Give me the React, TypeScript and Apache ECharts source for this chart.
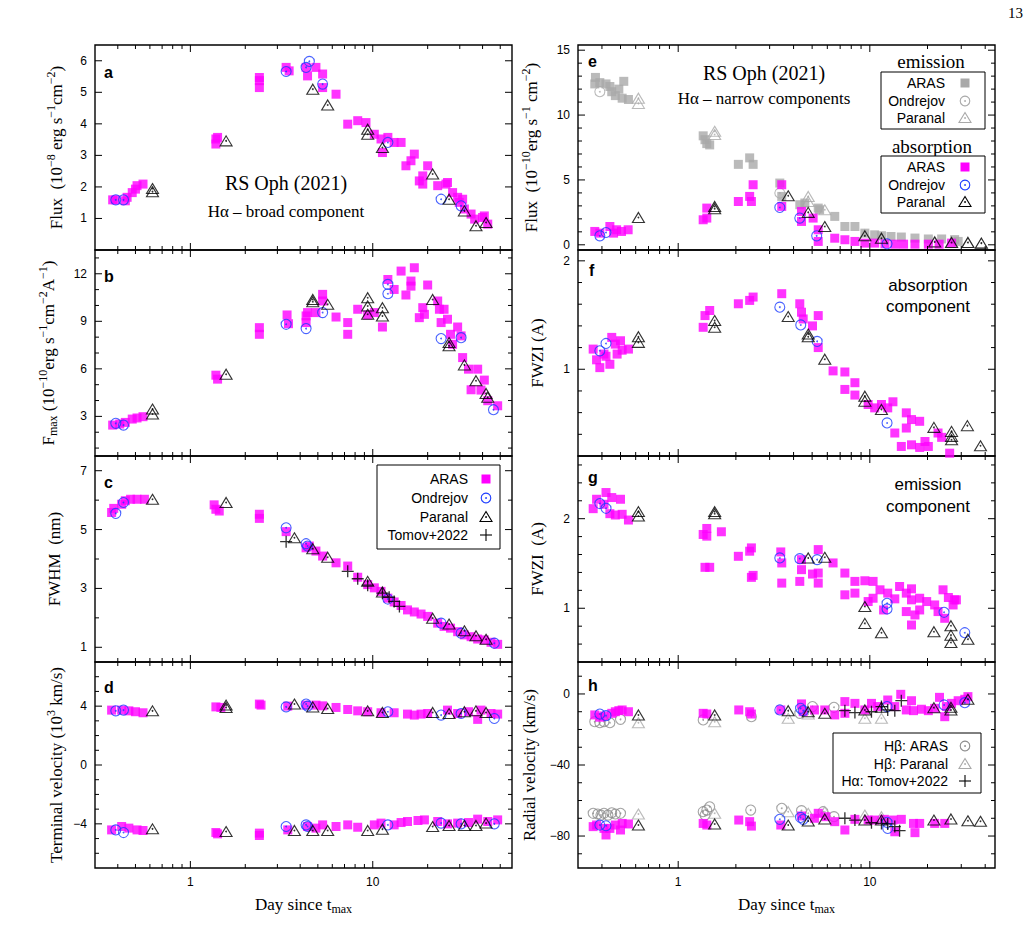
import React, { useEffect, useRef } from 'react';
import * as echarts from 'echarts';

type Pt = [number, number];

// ---------- (a) broad component: flux, 1e-8 erg s^-1 cm^-2 ----------
const broadFluxARAS: Pt[] = [[0.375,1.59],[0.39,1.59],[0.44,1.56],[0.45,1.67],[0.48,1.82],[0.50,1.93],[0.51,2.04],[0.55,2.09],[1.38,3.36],[1.38,3.52],[1.41,3.57],[2.39,5.15],[2.39,5.37],[2.39,5.47],[3.35,5.79],[3.48,5.68],[4.31,5.79],[4.39,5.52],[4.88,5.79],[5.31,5.58],[5.31,5.15],[6.29,4.94],[7.29,3.99],[8.27,4.10],[9.18,4.04],[10.2,3.67],[11.1,3.52],[11.3,3.09],[12.1,3.57],[13.1,3.41],[14.3,3.41],[15.2,2.67],[16.2,2.83],[16.9,3.04],[18.0,2.19],[18.8,2.35],[18.8,2.09],[20.0,2.67],[22.7,2.04],[25.2,2.09],[25.7,2.14],[27.4,1.82],[29.2,1.67],[29.8,1.51],[31.1,1.61],[31.8,1.30],[34.6,1.14],[36.2,0.98],[40.0,1.03],[40.9,1.08],[42.7,0.82]];
const broadFluxOndrejov: Pt[] = [[0.39,1.59],[0.43,1.59],[3.35,5.66],[4.31,5.79],[4.49,5.98],[5.31,5.26],[12.1,3.41],[23.7,1.61],[30.5,1.40]];
const broadFluxParanal: Pt[] = [[0.62,1.95],[0.62,1.85],[1.57,3.46],[4.69,5.10],[5.66,4.60],[9.38,3.83],[9.38,3.67],[11.3,3.25],[21.3,2.41],[26.2,1.61],[31.8,1.24],[36.8,0.77],[41.8,0.87]];

// ---------- (b) broad component: peak flux, 1e-10 erg s^-1 cm^-2 A^-1 ----------
const broadPeakARAS: Pt[] = [[0.375,2.45],[0.41,2.52],[0.44,2.62],[0.48,2.83],[0.51,2.90],[0.55,2.98],[1.38,5.60],[1.41,5.35],[2.39,8.18],[2.39,8.60],[3.39,9.40],[3.45,8.85],[4.31,9.34],[4.31,8.92],[4.39,9.55],[4.88,9.55],[5.31,10.70],[5.31,10.28],[6.29,9.27],[7.29,8.92],[7.29,8.18],[8.27,9.76],[9.38,9.40],[10.2,9.55],[11.3,8.64],[12.1,11.64],[13.1,11.01],[14.3,12.17],[15.2,10.66],[16.2,11.54],[16.2,11.22],[16.9,12.38],[18.0,9.23],[18.8,9.86],[19.2,9.44],[20.0,11.29],[22.7,10.28],[23.2,9.76],[23.7,8.92],[24.6,9.76],[25.7,9.13],[26.7,8.18],[27.4,7.55],[29.2,8.64],[30.5,8.08],[31.1,6.71],[33.5,5.98],[34.6,4.68],[37.6,5.98],[39.2,4.66],[40.9,5.29],[42.7,3.99],[48.4,3.67]];
const broadPeakOndrejov: Pt[] = [[0.39,2.56],[0.43,2.45],[3.35,8.81],[4.31,8.54],[5.31,9.55],[12.1,11.33],[12.1,10.74],[23.7,7.91],[30.5,7.97],[45.9,3.42]];
const broadPeakParanal: Pt[] = [[0.62,3.46],[0.62,3.15],[1.57,5.66],[4.69,10.38],[4.69,10.24],[5.66,10.07],[9.38,10.49],[9.38,9.97],[9.38,9.44],[11.3,9.86],[11.3,9.34],[21.3,10.38],[26.2,7.66],[26.2,7.45],[31.8,6.25],[36.8,5.25],[41.8,4.45],[42.7,4.20]];

// ---------- (c) broad component: FWHM, nm ----------
const fwhmARAS: Pt[] = [[0.37,5.58],[0.38,5.72],[0.42,5.86],[0.44,5.98],[0.47,6.03],[0.51,6.03],[0.56,6.03],[1.35,5.84],[1.38,5.69],[1.44,5.63],[2.39,5.52],[2.39,5.38],[3.35,4.93],[4.31,4.38],[4.49,4.44],[4.88,4.27],[5.31,4.10],[6.29,3.87],[7.29,3.76],[8.27,3.38],[9.38,3.13],[10.2,3.02],[11.1,2.90],[12.1,2.67],[13.1,2.54],[14.3,2.42],[15.5,2.27],[16.9,2.20],[18.4,2.13],[20.0,2.05],[22.7,1.82],[24.6,1.71],[26.7,1.65],[29.2,1.53],[31.8,1.42],[34.6,1.36],[37.6,1.28],[40.9,1.25],[44.5,1.17],[48.4,1.10]];
const fwhmOndrejov: Pt[] = [[0.39,5.55],[0.43,5.92],[3.35,5.06],[4.31,4.52],[4.39,4.44],[12.1,2.64],[23.7,1.82],[30.5,1.48],[46.4,1.14]];
const fwhmParanal: Pt[] = [[0.62,6.03],[1.57,5.92],[3.72,4.72],[4.69,4.35],[5.66,4.06],[9.38,3.24],[11.3,2.88],[21.3,1.99],[26.2,1.79],[31.8,1.56],[36.8,1.39],[41.8,1.27]];
const fwhmTomov: Pt[] = [[3.35,4.59],[7.29,3.58],[8.27,3.33],[9.38,3.11],[11.3,2.84],[12.3,2.70],[13.1,2.56],[14.0,2.39]];

// ---------- (d) terminal velocity, 1e3 km/s ----------
const termVelARAS: Pt[] = [[0.37,3.73],[0.42,3.73],[0.46,3.68],[0.50,3.62],[0.55,3.55],[1.38,3.95],[1.47,3.91],[2.39,4.14],[2.44,4.07],[3.42,4.0],[4.31,4.07],[4.88,4.07],[5.31,4.02],[6.29,3.91],[7.29,3.77],[8.27,3.68],[9.38,3.62],[11.1,3.55],[13.1,3.55],[15.5,3.46],[16.9,3.39],[18.4,3.46],[20.0,3.50],[25.7,3.73],[29.2,3.50],[33.5,3.62],[37.6,3.10],[39.2,3.73],[44.5,3.50],[48.4,3.46],
  [0.37,-4.41],[0.42,-4.18],[0.46,-4.29],[0.51,-4.41],[0.55,-4.45],[1.38,-4.59],[1.41,-4.68],[2.39,-4.63],[2.39,-4.79],[3.42,-4.41],[4.39,-4.18],[4.88,-4.29],[5.31,-4.07],[6.29,-4.18],[7.29,-4.07],[8.27,-4.23],[10.2,-4.07],[11.1,-3.95],[13.1,-4.07],[14.3,-3.91],[15.5,-3.84],[17.7,-3.77],[19.2,-3.73],[22.7,-3.84],[25.7,-4.0],[29.2,-3.95],[33.5,-3.91],[37.6,-3.68],[42.7,-3.84],[48.4,-3.73]];
const termVelOndrejov: Pt[] = [[0.39,3.68],[0.43,3.73],[3.35,3.95],[4.31,4.14],[4.39,4.0],[12.1,3.62],[23.7,3.39],[30.5,3.50],[46.4,3.16],
  [0.39,-4.41],[0.43,-4.59],[3.35,-4.18],[4.31,-4.07],[4.39,-4.18],[12.1,-4.07],[23.7,-3.95],[30.5,-4.0],[46.4,-4.0]];
const termVelParanal: Pt[] = [[0.62,3.68],[1.57,4.07],[1.57,3.91],[3.72,4.14],[4.69,3.95],[5.66,3.84],[9.38,3.68],[11.3,3.57],[21.3,3.57],[26.2,3.50],[31.8,3.62],[36.8,3.68],[41.8,3.57],
  [0.62,-4.34],[1.57,-4.52],[3.72,-4.45],[4.69,-4.45],[5.66,-4.45],[9.38,-4.45],[11.3,-4.36],[21.3,-4.18],[26.2,-4.11],[31.8,-4.11],[36.8,-4.11],[41.8,-3.95]];

// ---------- (e) narrow components: flux, 1e-10 erg s^-1 cm^-2 ----------
const narrowEmARAS: Pt[] = [[0.367,12.4],[0.37,12.9],[0.39,12.5],[0.42,12.4],[0.44,12.2],[0.45,11.8],[0.47,11.5],[0.49,12.0],[0.51,11.3],[0.52,12.6],[0.55,11.2],[1.35,8.4],[1.38,8.1],[1.41,7.8],[1.46,7.7],[2.06,6.2],[2.36,6.7],[2.46,6.2],[3.39,4.76],[3.47,3.73],[4.31,3.09],[4.58,3.22],[5.38,2.83],[5.47,2.70],[6.56,2.19],[7.41,1.41],[8.36,1.41],[9.42,0.9],[10.6,0.77],[11.5,0.7],[12.9,0.64],[14.6,0.6],[17.2,0.52],[20.2,0.45],[23.7,0.45],[27.7,0.4],[28.9,0.26]];
const narrowEmOndrejov: Pt[] = [[0.39,11.8],[3.39,3.99]];
const narrowEmParanal: Pt[] = [[0.62,11.3],[0.62,10.9],[1.55,8.75],[1.55,8.5],[4.77,3.73],[4.77,3.34],[5.82,2.70],[9.42,0.77],[11.5,0.51],[21.8,0.26],[26.7,0.18],[32.5,0.18],[38.2,0.13]];
const narrowAbsARAS: Pt[] = [[0.367,1.03],[0.39,0.9],[0.44,1.41],[0.46,0.9],[0.477,1.16],[0.506,1.03],[0.548,1.16],[1.35,1.93],[1.41,2.06],[1.41,2.83],[2.06,3.34],[2.36,3.73],[2.41,3.34],[2.46,4.63],[3.47,4.63],[3.47,2.96],[4.40,2.57],[4.40,1.80],[5.06,2.06],[5.38,1.16],[5.38,0.26],[6.56,0.51],[7.41,0.39],[8.36,0.26],[9.42,0.13],[10.6,0.13],[12.0,0.08],[13.5,0.05],[15.0,0.05],[17.2,0.05],[20.2,0.05],[23.0,0.05],[26.7,0.13]];
const narrowAbsOndrejov: Pt[] = [[0.39,0.69],[0.42,0.95],[3.39,2.88],[4.31,2.06],[5.28,0.69],[12.3,0.08]];
const narrowAbsParanal: Pt[] = [[0.62,2.11],[1.55,2.96],[1.55,2.78],[3.75,3.78],[4.77,2.50],[5.82,1.41],[9.42,0.69],[11.5,0.51],[21.8,0.21],[26.7,0.18],[32.5,0.18],[38.2,0.13]];

// ---------- (f) absorption component: FWZI, A ----------
const fwziAbsARAS: Pt[] = [[0.36,1.186],[0.375,1.087],[0.39,1.015],[0.41,1.14],[0.42,1.12],[0.44,1.046],[0.45,1.294],[0.47,1.232],[0.48,1.14],[0.50,1.263],[0.51,1.176],[0.55,1.186],[1.35,1.387],[1.38,1.495],[1.46,1.542],[2.06,1.604],[2.36,1.635],[2.46,1.666],[3.47,1.697],[4.31,1.604],[4.40,1.526],[4.49,1.464],[5.02,1.40],[5.38,1.495],[5.38,1.20],[6.43,0.985],[7.41,0.975],[7.41,0.814],[8.36,0.876],[8.36,0.762],[9.80,0.675],[10.6,0.644],[11.5,0.675],[12.4,0.644],[13.2,0.70],[13.5,0.412],[14.6,0.288],[15.5,0.598],[15.5,0.458],[16.5,0.536],[16.5,0.303],[18.2,0.52],[18.2,0.279],[19.4,0.334],[20.2,0.288],[22.7,0.412],[23.7,0.372],[26.1,0.226]];
const fwziAbsOndrejov: Pt[] = [[0.39,1.17],[0.42,1.238],[3.39,1.573],[4.36,1.409],[5.31,1.257],[12.3,0.505]];
const fwziAbsParanal: Pt[] = [[0.62,1.30],[0.62,1.248],[1.55,1.449],[1.55,1.387],[3.75,1.486],[4.77,1.325],[4.77,1.30],[5.82,1.093],[9.42,0.752],[9.42,0.706],[11.5,0.629],[21.6,0.464],[26.7,0.427],[26.7,0.381],[26.7,0.35],[32.3,0.48],[37.8,0.294]];

// ---------- (g) emission component: FWZI, A ----------
const fwziEmARAS: Pt[] = [[0.36,2.112],[0.375,2.217],[0.41,2.161],[0.42,2.292],[0.44,2.056],[0.45,2.236],[0.47,2.041],[0.50,2.217],[0.51,2.049],[0.55,1.985],[1.35,1.824],[1.41,1.891],[1.41,1.805],[1.38,1.457],[1.46,1.457],[1.68,1.854],[2.06,1.58],[2.36,1.637],[2.41,1.674],[2.41,1.345],[2.46,1.367],[3.43,1.629],[3.47,1.506],[3.47,1.281],[4.31,1.30],[4.40,1.431],[4.40,1.543],[5.02,1.382],[5.38,1.655],[5.38,1.393],[5.38,1.281],[6.43,1.506],[7.41,1.393],[7.41,1.15],[8.36,1.30],[8.36,1.169],[9.42,1.307],[9.80,1.075],[10.4,1.30],[10.4,1.112],[11.3,1.206],[11.8,0.981],[12.4,1.169],[13.5,1.105],[14.3,1.243],[15.5,1.169],[15.5,0.963],[16.5,1.217],[16.5,0.813],[16.5,1.094],[17.2,0.925],[18.2,1.112],[18.2,0.981],[19.8,1.075],[21.8,1.037],[22.7,0.963],[24.1,1.206],[24.6,0.888],[25.7,1.12],[27.2,1.037],[27.7,1.094],[28.3,1.094]];
const fwziEmOndrejov: Pt[] = [[0.39,2.169],[0.42,2.116],[3.39,1.562],[4.31,1.554],[5.31,1.543],[12.3,1.056],[12.3,0.993],[24.4,0.955],[31.3,0.727]];
const fwziEmParanal: Pt[] = [[0.62,2.079],[0.62,2.03],[1.55,2.079],[1.55,2.056],[4.77,1.562],[5.82,1.569],[9.42,1.019],[9.42,0.831],[11.5,0.727],[21.6,0.738],[26.5,0.805],[26.5,0.70],[26.5,0.618],[32.5,0.655]];

// ---------- (h) radial velocity, km/s ----------
const radVelARAS: Pt[] = [[0.367,-11.8],[0.39,-13.1],[0.41,-12.4],[0.45,-10.9],[0.47,-10.0],[0.49,-9.4],[0.51,-9.0],[0.55,-10.0],[1.35,-10.9],[1.41,-11.3],[2.07,-9.0],[2.36,-10.0],[2.41,-11.3],[3.43,-9.0],[4.40,-5.6],[4.49,-10.0],[5.14,-9.0],[5.82,-9.0],[6.56,-11.8],[7.41,-4.3],[7.41,-10.9],[8.36,-5.3],[9.42,-9.0],[10.2,-5.3],[11.0,-7.1],[12.4,-3.4],[13.5,-7.1],[14.5,-0.2],[15.5,-9.0],[16.5,-3.8],[16.9,-9.4],[18.6,-8.6],[20.2,-9.4],[21.8,-8.1],[23.1,-1.9],[24.6,-12.8],[25.1,-7.1],[26.7,-5.3],[28.9,-3.8],[31.3,-3.0],[32.5,-1.5],
  [0.36,-74.7],[0.375,-73.8],[0.41,-75.7],[0.42,-79.4],[0.44,-75.7],[0.47,-73.8],[0.50,-76.6],[0.51,-72.9],[0.55,-73.2],[1.35,-72.9],[1.41,-73.8],[2.07,-71.0],[2.36,-71.9],[2.41,-74.4],[3.43,-73.8],[4.40,-68.7],[5.14,-70.0],[5.38,-67.2],[5.9,-69.1],[6.56,-71.9],[7.41,-76.6],[8.36,-70.6],[9.80,-71.0],[10.6,-71.0],[11.9,-70.6],[13.2,-71.0],[13.5,-77.6],[14.6,-70.6],[16.9,-72.9],[17.2,-78.1],[18.2,-72.9],[21.8,-72.9],[24.6,-72.9]];
const radVelOndrejov: Pt[] = [[0.39,-11.3],[0.42,-12.2],[3.39,-9.0],[4.35,-8.1],[4.49,-9.4],[12.3,-7.1],[24.4,-6.2],[31.3,-4.9],
  [0.39,-73.8],[0.42,-74.2],[3.39,-70.6],[4.35,-69.5],[4.49,-70.6],[12.3,-72.3],[12.4,-75.7]];
const radVelParanal: Pt[] = [[0.62,-11.8],[1.55,-11.8],[3.75,-9.4],[4.77,-10.0],[5.82,-10.9],[9.42,-9.0],[11.5,-7.5],[21.6,-7.7],[26.5,-7.5],[26.5,-9.0],[32.5,-3.0],
  [0.62,-73.8],[1.55,-73.2],[3.75,-73.8],[4.77,-71.5],[5.82,-70.4],[9.42,-71.0],[11.5,-71.0],[21.6,-71.0],[26.5,-70.4],[32.5,-71.4],[37.8,-71.7]];
const radVelHbARAS: Pt[] = [[0.367,-15.6],[0.39,-16.2],[0.41,-15.6],[0.44,-16.2],[0.50,-14.3],[1.35,-14.6],[2.41,-12.8],[4.31,-10.9],[5.02,-7.1],[6.5,-7.5],
  [0.36,-67.2],[0.38,-67.6],[0.395,-68.2],[0.41,-67.2],[0.43,-68.2],[0.45,-66.9],[0.47,-67.6],[0.50,-67.2],[1.35,-66.3],[1.41,-65.4],[1.38,-68.2],[1.46,-63.5],[2.39,-65.4],[3.47,-64.4],[4.40,-65.7],[5.7,-66.3],[6.5,-69.1]];
const radVelHbParanal: Pt[] = [[0.62,-16.2],[1.55,-15.6],[3.75,-13.7],[4.77,-11.3],[9.42,-13.7],[11.5,-13.7],
  [0.62,-67.6],[1.55,-67.2],[3.75,-66.3],[4.77,-67.2],[5.82,-66.3],[9.42,-68.2],[11.5,-69.1]];
const radVelTomov: Pt[] = [[7.41,-9.4],[8.36,-10.5],[10.2,-10.0],[11.5,-7.1],[12.4,-9.0],[13.5,-9.4],[14.6,-3.8],
  [7.41,-70.0],[8.36,-71.0],[10.2,-72.5],[11.5,-72.9],[12.4,-73.2],[13.5,-74.7],[14.3,-77.0]];

// ---------- axes ----------
const leftDays = { min: 0.3, max: 58 };
const rightDays = { min: 0.3, max: 45 };
const dayLabels = [1, 10];
const dayTicks = [0.4, 0.5, 0.6, 0.7, 0.8, 0.9, 1, 2, 3, 4, 5, 6, 7, 8, 9, 10, 20, 30, 40, 50];

const SANS = '"Liberation Sans", Arial, Helvetica, sans-serif';
const SERIF = '"Liberation Serif", "Times New Roman", serif';
const MAGENTA = '#ff00ff';
const BLUE = '#1c3cff';
const GREY = '#a9a9a9';
const GREY_DARK = '#8c8c8c';

type Style = 'square' | 'circle' | 'triangle' | 'plus';
interface Layer { data: Pt[]; style: Style; color: string; }
interface Panel {
  left: number; top: number; width: number; height: number;
  days: { min: number; max: number };
  yMin: number; yMax: number; yLabels: number[]; yTicks: number[];
  yName: string; yNameGap: number;
  xLabels: boolean;
  layers: Layer[];
}

const COL_L = 95, COL_R = 578, COL_W = 417;
const ROWS = [{ top: 45, height: 205 }, { top: 250, height: 206 }, { top: 456, height: 206 }, { top: 662, height: 206 }];

const panels: Panel[] = [
  { left: COL_L, ...ROWS[0], width: COL_W, days: leftDays, yMin: 0, yMax: 6.5, yLabels: [1,2,3,4,5,6], yTicks: [1,2,3,4,5,6],
    yName: 'Flux  (10{sup|\u22128} erg s{sup|\u22121}cm{sup|\u22122})', yNameGap: 28, xLabels: false,
    layers: [{ data: broadFluxARAS, style: 'square', color: MAGENTA }, { data: broadFluxOndrejov, style: 'circle', color: BLUE }, { data: broadFluxParanal, style: 'triangle', color: '#000' }] },
  { left: COL_L, ...ROWS[1], width: COL_W, days: leftDays, yMin: 0.5, yMax: 13.5, yLabels: [3,6,9,12], yTicks: [1,2,3,4,5,6,7,8,9,10,11,12,13],
    yName: 'F{sub|max} (10{sup|\u221210}erg s{sup|\u22121}cm{sup|\u22122}A{sup|\u22121})', yNameGap: 36, xLabels: false,
    layers: [{ data: broadPeakARAS, style: 'square', color: MAGENTA }, { data: broadPeakOndrejov, style: 'circle', color: BLUE }, { data: broadPeakParanal, style: 'triangle', color: '#000' }] },
  { left: COL_L, ...ROWS[2], width: COL_W, days: leftDays, yMin: 0.5, yMax: 7.5, yLabels: [1,3,5,7], yTicks: [1,2,3,4,5,6,7],
    yName: 'FWHM  (nm)', yNameGap: 30, xLabels: false,
    layers: [{ data: fwhmARAS, style: 'square', color: MAGENTA }, { data: fwhmOndrejov, style: 'circle', color: BLUE }, { data: fwhmParanal, style: 'triangle', color: '#000' }, { data: fwhmTomov, style: 'plus', color: '#000' }] },
  { left: COL_L, ...ROWS[3], width: COL_W, days: leftDays, yMin: -7, yMax: 7, yLabels: [-4,0,4], yTicks: [-6,-5,-4,-3,-2,-1,0,1,2,3,4,5,6],
    yName: 'Terminal velocity (10{sup|3} km/s)', yNameGap: 28, xLabels: true,
    layers: [{ data: termVelARAS, style: 'square', color: MAGENTA }, { data: termVelOndrejov, style: 'circle', color: BLUE }, { data: termVelParanal, style: 'triangle', color: '#000' }] },
  { left: COL_R, ...ROWS[0], width: COL_W, days: rightDays, yMin: -0.4, yMax: 15.4, yLabels: [0,5,10,15], yTicks: [0,1,2,3,4,5,6,7,8,9,10,11,12,13,14,15],
    yName: 'Flux  (10{sup|\u221210}erg s{sup|\u22121} cm{sup|\u22122})', yNameGap: 36, xLabels: false,
    layers: [{ data: narrowEmARAS, style: 'square', color: GREY }, { data: narrowEmOndrejov, style: 'circle', color: GREY }, { data: narrowEmParanal, style: 'triangle', color: GREY },
      { data: narrowAbsARAS, style: 'square', color: MAGENTA }, { data: narrowAbsOndrejov, style: 'circle', color: BLUE }, { data: narrowAbsParanal, style: 'triangle', color: '#000' }] },
  { left: COL_R, ...ROWS[1], width: COL_W, days: rightDays, yMin: 0.2, yMax: 2.1, yLabels: [1,2], yTicks: [0.4,0.6,0.8,1,1.2,1.4,1.6,1.8,2],
    yName: 'FWZI (A)', yNameGap: 30, xLabels: false,
    layers: [{ data: fwziAbsARAS, style: 'square', color: MAGENTA }, { data: fwziAbsOndrejov, style: 'circle', color: BLUE }, { data: fwziAbsParanal, style: 'triangle', color: '#000' }] },
  { left: COL_R, ...ROWS[2], width: COL_W, days: rightDays, yMin: 0.4, yMax: 2.7, yLabels: [1,2], yTicks: [0.6,0.8,1,1.2,1.4,1.6,1.8,2,2.2,2.4,2.6],
    yName: 'FWZI  (A)', yNameGap: 30, xLabels: false,
    layers: [{ data: fwziEmARAS, style: 'square', color: MAGENTA }, { data: fwziEmOndrejov, style: 'circle', color: BLUE }, { data: fwziEmParanal, style: 'triangle', color: '#000' }] },
  { left: COL_R, ...ROWS[3], width: COL_W, days: rightDays, yMin: -98, yMax: 18, yLabels: [-80,-40,0], yTicks: [-90,-80,-70,-60,-50,-40,-30,-20,-10,0,10],
    yName: 'Radial velocity (km/s)', yNameGap: 38, xLabels: true,
    layers: [{ data: radVelHbARAS, style: 'circle', color: GREY_DARK }, { data: radVelHbParanal, style: 'triangle', color: GREY },
      { data: radVelARAS, style: 'square', color: MAGENTA }, { data: radVelOndrejov, style: 'circle', color: BLUE }, { data: radVelParanal, style: 'triangle', color: '#000' }, { data: radVelTomov, style: 'plus', color: '#000' }] },
];

const PLUS_PATH = 'path://M4.45,0h1.1v10h-1.1z M0,4.45h10v1.1h-10z';
const MAJOR_TICK = 7, MINOR_TICK = 4;

function symbolFor(style: Style, color: string) {
  switch (style) {
    case 'square': return { symbol: 'rect', symbolSize: 9, itemStyle: { color } };
    case 'circle': return { symbol: 'circle', symbolSize: 10, itemStyle: { color: 'rgba(0,0,0,0)', borderColor: color, borderWidth: 1.1 } };
    case 'triangle': return { symbol: 'triangle', symbolSize: [12, 10], itemStyle: { color: 'rgba(0,0,0,0)', borderColor: color, borderWidth: 1.1 } };
    default: return { symbol: PLUS_PATH, symbolSize: 12, itemStyle: { color } };
  }
}

const fmtNum = (v: number) => {
  const r = Math.round(v * 1000) / 1000;
  return r < 0 ? '\u2212' + Math.abs(r) : String(r);
};

const nameRich = {
  sup: { fontFamily: SERIF, fontSize: 12, verticalAlign: 'top', lineHeight: 12, color: '#000' },
  sub: { fontFamily: SERIF, fontSize: 12, verticalAlign: 'bottom', lineHeight: 12, color: '#000' },
};

interface AxisRef { p: Panel; xLog: number; yMain: number; }

function buildOption() {
  const grid: any[] = [], xAxis: any[] = [], yAxis: any[] = [], series: any[] = [];
  const refs: AxisRef[] = [];

  panels.forEach((p, g) => {
    grid.push({ left: p.left, top: p.top, width: p.width, height: p.height, show: true, borderColor: '#000', borderWidth: 1.4 });

    // log day axis that positions everything in this panel
    const xLog = xAxis.length;
    xAxis.push({ type: 'log', logBase: 10, gridIndex: g, min: p.days.min, max: p.days.max, show: false });

    // day labels and axis title on the bottom row
    if (p.xLabels) {
      xAxis.push({
        type: 'value', gridIndex: g, position: 'bottom', min: Math.log10(p.days.min), max: Math.log10(p.days.max),
        axisLine: { show: false, onZero: false }, splitLine: { show: false }, axisTick: { show: false },
        axisLabel: { show: true, customValues: dayLabels.map((v) => Math.log10(v)), formatter: (v: number) => String(Math.round(Math.pow(10, v))), fontFamily: SANS, fontSize: 12, color: '#000', margin: 8 },
        name: 'Day since t{sub|max}', nameLocation: 'middle', nameGap: 25,
        nameTextStyle: { fontFamily: SERIF, fontSize: 17, color: '#000', lineHeight: 22, rich: nameRich },
      });
    }

    const yMain = yAxis.length;
    yAxis.push({
      type: 'value', gridIndex: g, position: 'left', min: p.yMin, max: p.yMax,
      axisLine: { show: false, onZero: false }, splitLine: { show: false }, axisTick: { show: false },
      axisLabel: { show: true, customValues: p.yLabels, formatter: fmtNum, fontFamily: SANS, fontSize: 12, color: '#000', margin: 8 },
      name: p.yName, nameLocation: 'middle', nameGap: p.yNameGap, nameRotate: 90,
      nameTextStyle: { fontFamily: SERIF, fontSize: 17, color: '#000', lineHeight: 22, rich: nameRich },
    });
    refs.push({ p, xLog, yMain });

    p.layers.forEach((layer) => {
      series.push({
        type: 'scatter', xAxisIndex: xLog, yAxisIndex: yMain, data: layer.data,
        silent: true, clip: false, ...symbolFor(layer.style, layer.color),
      });
      // open symbols carry a small centre dot
      if (layer.style === 'circle' || layer.style === 'triangle') {
        series.push({
          type: 'scatter', xAxisIndex: xLog, yAxisIndex: yMain, data: layer.data,
          silent: true, clip: false, symbol: 'circle', symbolSize: 1.8, itemStyle: { color: layer.color },
        });
      }
    });
  });
  return { option: { grid, xAxis, yAxis, series }, refs };
}

// ---------- inward ticks on all four sides, positioned with each panel's scales ----------
function tickSeg(x1: number, y1: number, x2: number, y2: number) {
  return { type: 'line', silent: true, z: 100, shape: { x1, y1, x2, y2 }, style: { stroke: '#000', lineWidth: 1 } };
}
function buildTicks(chart: any, refs: AxisRef[]) {
  const out: any[] = [];
  refs.forEach(({ p, xLog, yMain }) => {
    const finder = { xAxisIndex: xLog, yAxisIndex: yMain };
    const px = (d: number, v: number): number[] | null => {
      try {
        const r = chart.convertToPixel(finder, [d, v]);
        return Array.isArray(r) && isFinite(r[0]) && isFinite(r[1]) ? r : null;
      } catch (e) { return null; }
    };
    dayTicks.forEach((d) => {
      if (d <= p.days.min || d >= p.days.max) return;
      const len = dayLabels.includes(d) ? MAJOR_TICK : MINOR_TICK;
      const b = px(d, p.yMin), t = px(d, p.yMax);
      if (b) out.push(tickSeg(b[0], b[1], b[0], b[1] - len));
      if (t) out.push(tickSeg(t[0], t[1], t[0], t[1] + len));
    });
    p.yTicks.forEach((v) => {
      const len = p.yLabels.includes(v) ? MAJOR_TICK : MINOR_TICK;
      const l = px(p.days.min, v), r = px(p.days.max, v);
      if (l) out.push(tickSeg(l[0], l[1], l[0] + len, l[1]));
      if (r) out.push(tickSeg(r[0], r[1], r[0] - len, r[1]));
    });
  });
  return out;
}

// ---------- annotations and legends ----------
function txt(x: number, y: number, text: string, font: string, align = 'center') {
  return { type: 'text', x, y, silent: true, style: { text, font, align, verticalAlign: 'middle', fill: '#000' } };
}
function legendKey(style: Style, color: string, cx: number, cy: number): any {
  const dot = { type: 'circle', shape: { cx, cy, r: 0.9 }, style: { fill: color } };
  if (style === 'square') return { type: 'rect', silent: true, shape: { x: cx - 4.5, y: cy - 4.5, width: 9, height: 9 }, style: { fill: color } };
  if (style === 'circle') return { type: 'group', silent: true, children: [
    { type: 'circle', shape: { cx, cy, r: 4.8 }, style: { fill: 'none', stroke: color, lineWidth: 1.1 } }, dot] };
  if (style === 'triangle') return { type: 'group', silent: true, children: [
    { type: 'polygon', shape: { points: [[cx, cy - 5.5], [cx + 6, cy + 4.5], [cx - 6, cy + 4.5]] }, style: { fill: 'none', stroke: color, lineWidth: 1.1 } }, dot] };
  return { type: 'group', silent: true, children: [
    { type: 'line', shape: { x1: cx - 6, y1: cy, x2: cx + 6, y2: cy }, style: { stroke: color, lineWidth: 1.1 } },
    { type: 'line', shape: { x1: cx, y1: cy - 6, x2: cx, y2: cy + 6 }, style: { stroke: color, lineWidth: 1.1 } },
  ] };
}
function legendBox(x: number, y: number, w: number, h: number, rows: { label: string; style: Style; color: string; y: number }[], textRight: number, keyX: number) {
  const out: any[] = [{ type: 'rect', silent: true, shape: { x, y, width: w, height: h }, style: { fill: '#fff', stroke: '#000', lineWidth: 1 } }];
  rows.forEach((r) => {
    out.push(txt(textRight, r.y, r.label, `14px ${SANS}`, 'right'));
    out.push(legendKey(r.style, r.color, keyX, r.y));
  });
  return out;
}

function buildGraphics() {
  const letter = `bold 16px ${SANS}`;
  const g: any[] = [
    txt(1023, 13, '13', `15px ${SERIF}`, 'right'),
    txt(104, 72, 'a', letter, 'left'), txt(104, 276, 'b', letter, 'left'), txt(104, 482, 'c', letter, 'left'), txt(104, 687, 'd', letter, 'left'),
    txt(588, 61, 'e', letter, 'left'), txt(589, 270, 'f', letter, 'left'), txt(588, 477, 'g', letter, 'left'), txt(588, 685, 'h', letter, 'left'),
    txt(286, 183, 'RS Oph (2021)', `20px ${SERIF}`), txt(286, 211, 'H\u03b1 \u2013 broad component', `17px ${SERIF}`),
    txt(764, 73, 'RS Oph (2021)', `20px ${SERIF}`), txt(764, 98, 'H\u03b1 \u2013 narrow components', `17px ${SERIF}`),
    txt(928, 285, 'absorption', `17px ${SANS}`), txt(928, 306, 'component', `17px ${SANS}`),
    txt(928, 484, 'emission', `17px ${SANS}`), txt(928, 506, 'component', `17px ${SANS}`),
    txt(931, 61, 'emission', `19px ${SERIF}`), txt(932, 146, 'absorption', `19px ${SERIF}`),
  ];
  g.push(...legendBox(377, 465, 123, 84, [
    { label: 'ARAS', style: 'square', color: MAGENTA, y: 479 },
    { label: 'Ondrejov', style: 'circle', color: BLUE, y: 498 },
    { label: 'Paranal', style: 'triangle', color: '#000', y: 517 },
    { label: 'Tomov+2022', style: 'plus', color: '#000', y: 535 },
  ], 468, 486));
  g.push(...legendBox(881, 72, 104, 57, [
    { label: 'ARAS', style: 'square', color: GREY, y: 83 },
    { label: 'Ondrejov', style: 'circle', color: GREY, y: 101 },
    { label: 'Paranal', style: 'triangle', color: GREY, y: 118 },
  ], 945, 965));
  g.push(...legendBox(881, 156, 104, 57, [
    { label: 'ARAS', style: 'square', color: MAGENTA, y: 167 },
    { label: 'Ondrejov', style: 'circle', color: BLUE, y: 185 },
    { label: 'Paranal', style: 'triangle', color: '#000', y: 202 },
  ], 945, 965));
  g.push(...legendBox(833, 733, 148, 60, [
    { label: 'H\u03b2: ARAS', style: 'circle', color: GREY_DARK, y: 746 },
    { label: 'H\u03b2: Paranal', style: 'triangle', color: GREY, y: 764 },
    { label: 'H\u03b1: Tomov+2022', style: 'plus', color: '#000', y: 781 },
  ], 948, 965));
  return g;
}

export default function App() {
  const ref = useRef<HTMLDivElement>(null);
  useEffect(() => {
    if (!ref.current) return;
    const chart = echarts.init(ref.current, null, { renderer: 'svg' });
    const { option, refs } = buildOption();
    const graphics = buildGraphics();
    chart.setOption({
      animation: false,
      backgroundColor: '#ffffff',
      textStyle: { fontFamily: SANS, color: '#000' },
      ...option,
      graphic: graphics,
    });
    let ticks: any[] = [];
    try { ticks = buildTicks(chart, refs); } catch (e) { ticks = []; }
    if (ticks.length) chart.setOption({ graphic: [...graphics, ...ticks] });
    return () => chart.dispose();
  }, []);
  return <div ref={ref} style={{ position: 'absolute', left: 0, top: 0, width: 1033, height: 947, background: '#fff' }} />;
}
